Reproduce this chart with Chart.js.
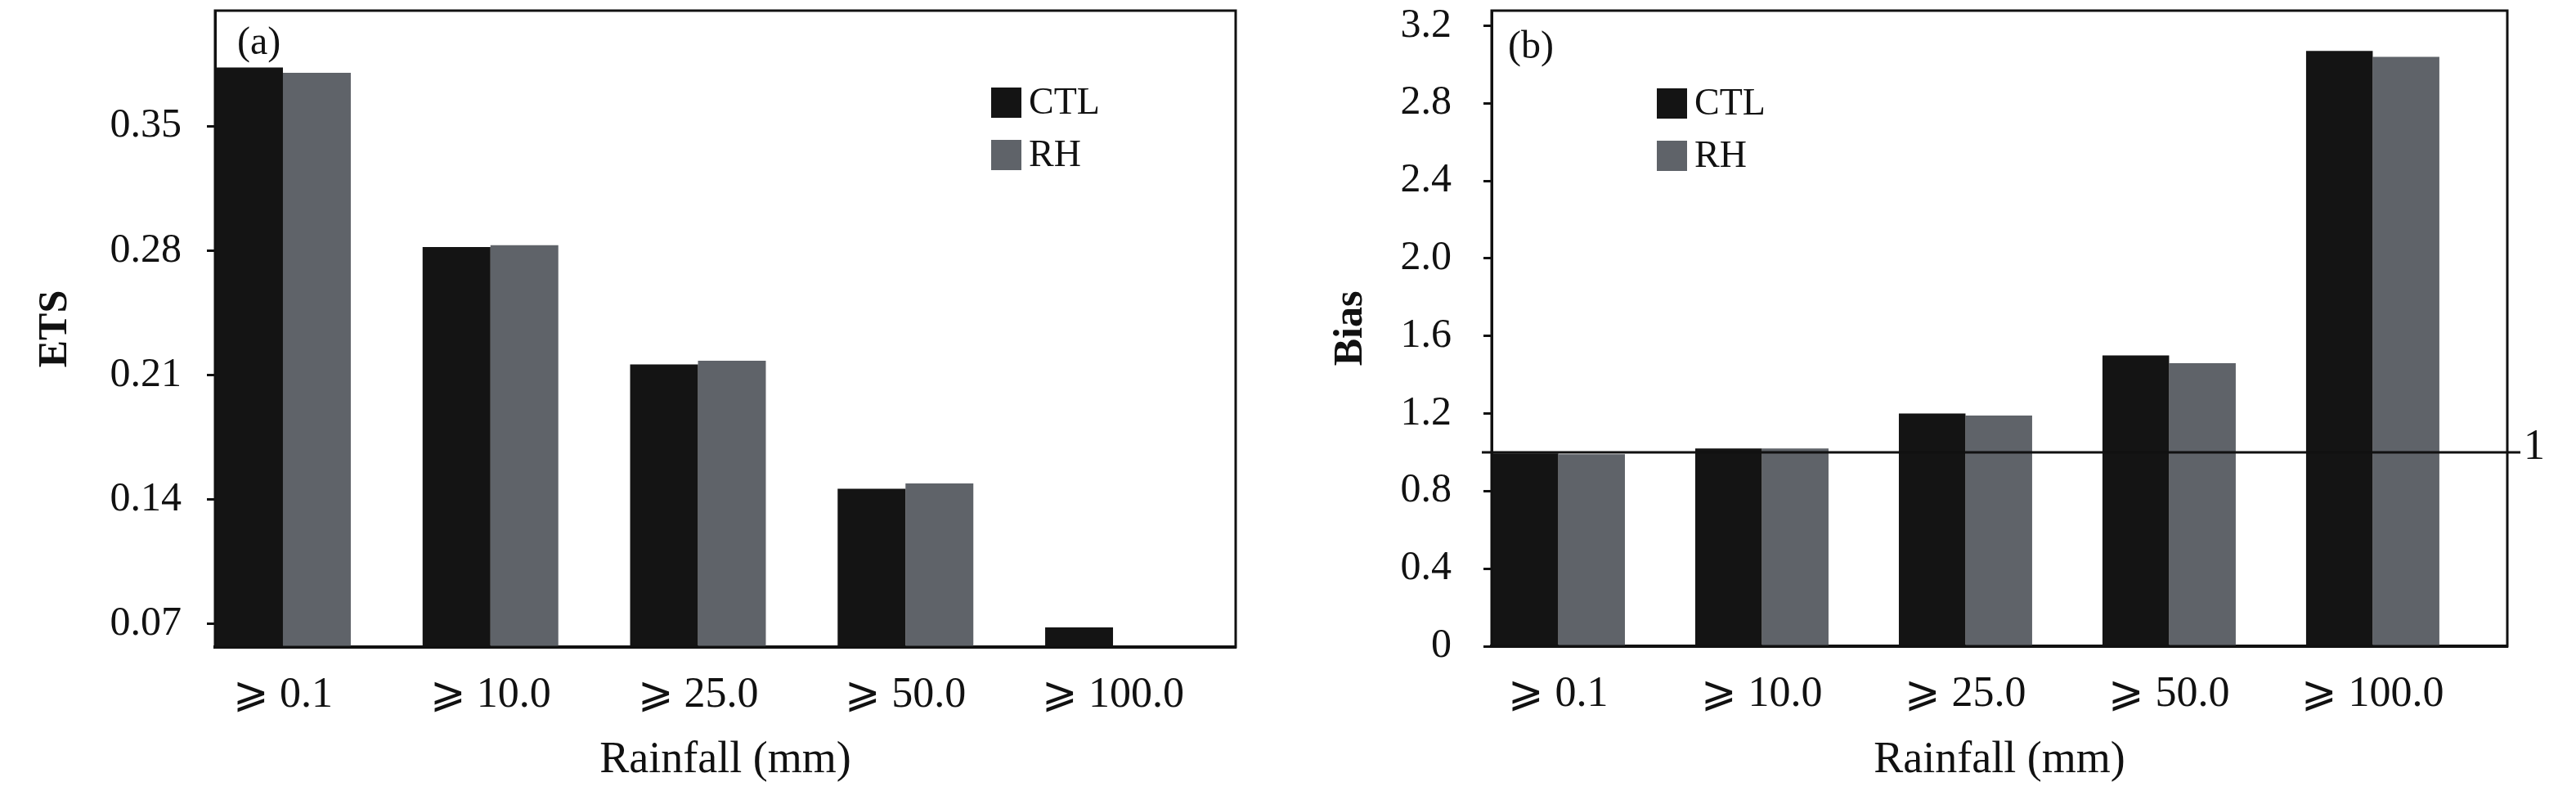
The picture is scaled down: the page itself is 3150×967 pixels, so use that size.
<!DOCTYPE html>
<html><head><meta charset="utf-8">
<script src="https://cdn.jsdelivr.net/npm/chart.js@4.4.1/dist/chart.umd.min.js"></script>
<style>
html,body{margin:0;padding:0;background:#fff;width:3150px;height:967px;overflow:hidden}
#wa{position:absolute;left:0;top:0;width:1560px;height:967px}
#wb{position:absolute;left:1560px;top:0;width:1590px;height:967px}
canvas{display:block}
</style></head><body>
<div id="wa"><canvas id="ca" width="1560" height="967"></canvas></div>
<div id="wb"><canvas id="cb" width="1590" height="967"></canvas></div>
<script>
// ---- data ----
const categories = ['⩾ 0.1', '⩾ 10.0', '⩾ 25.0', '⩾ 50.0', '⩾ 100.0'];
const seriesNames = ['CTL', 'RH'];
const seriesColors = ['#141414', '#5f6369'];
const etsCTL = [0.383, 0.282, 0.216, 0.146, 0.068];
const etsRH  = [0.380, 0.283, 0.218, 0.149, null];
const biasCTL = [0.995, 1.02, 1.20, 1.50, 3.07];
const biasRH  = [0.99, 1.02, 1.19, 1.46, 3.04];
const etsTicks = [0.07, 0.14, 0.21, 0.28, 0.35];
const etsTickLabels = ['0.07', '0.14', '0.21', '0.28', '0.35'];
const biasTicks = [0, 0.4, 0.8, 1.2, 1.6, 2.0, 2.4, 2.8, 3.2];
const biasTickLabels = ['0', '0.4', '0.8', '1.2', '1.6', '2.0', '2.4', '2.8', '3.2'];
const xTitle = 'Rainfall (mm)';
const refValue = 1;
const refLabel = '1';

const FONT = "'Liberation Serif','DejaVu Serif',serif";
Chart.defaults.font.family = FONT;
Chart.defaults.color = '#111';

function toPoints(arr) { return arr.map((v, i) => ({ x: i, y: v })); }

function framePlugin() {
  return {
    id: 'frame',
    afterDraw(chart) {
      const { ctx, chartArea: a } = chart;
      ctx.save();
      ctx.strokeStyle = '#111';
      ctx.lineWidth = 3;
      ctx.strokeRect(a.left, a.top, a.right - a.left, a.bottom - a.top);
      ctx.restore();
    }
  };
}
function labelPlugin(text, dx, dy) {
  return {
    id: 'panelLabel',
    afterDraw(chart) {
      const { ctx, chartArea: a } = chart;
      ctx.save();
      ctx.font = '48px ' + FONT;
      ctx.fillStyle = '#111';
      ctx.textBaseline = 'middle';
      ctx.textAlign = 'left';
      ctx.fillText(text, a.left + dx, a.top + dy);
      ctx.restore();
    }
  };
}
function legendPlugin(dx, dy) {
  return {
    id: 'customLegend',
    afterDraw(chart) {
      const { ctx, chartArea: a } = chart;
      ctx.save();
      ctx.font = '46px ' + FONT;
      ctx.textBaseline = 'middle';
      ctx.textAlign = 'left';
      chart.data.datasets.forEach((ds, i) => {
        const x = a.left + dx, y = a.top + dy + i * 64;
        ctx.fillStyle = ds.backgroundColor;
        ctx.fillRect(x, y, 37, 37);
        ctx.fillStyle = '#111';
        ctx.fillText(ds.label, x + 46, y + 20);
      });
      ctx.restore();
    }
  };
}
const refPlugin = {
  id: 'refLine',
  afterDatasetsDraw(chart) {
    const { ctx, chartArea: a, scales } = chart;
    const y = scales.y.getPixelForValue(refValue);
    ctx.save();
    ctx.strokeStyle = '#111';
    ctx.lineWidth = 3;
    ctx.beginPath();
    ctx.moveTo(a.left - 12, y);
    ctx.lineTo(a.right + 16, y);
    ctx.stroke();
    ctx.font = '52px ' + FONT;
    ctx.fillStyle = '#111';
    ctx.textBaseline = 'middle';
    ctx.textAlign = 'left';
    ctx.fillText(refLabel, a.right + 20, y - 6);
    ctx.restore();
  }
};

function makeChart(id, o) {
  const cv = document.getElementById(id);
  return new Chart(cv, {
    type: 'bar',
    data: {
      datasets: [
        { label: seriesNames[0], data: toPoints(o.ctl), backgroundColor: seriesColors[0], borderWidth: 0 },
        { label: seriesNames[1], data: toPoints(o.rh), backgroundColor: seriesColors[1], borderWidth: 0 }
      ]
    },
    options: {
      responsive: false,
      animation: false,
      devicePixelRatio: 1,
      layout: { padding: { top: 13, right: o.padRight, bottom: 0, left: 0 } },
      datasets: { bar: { categoryPercentage: o.catPct, barPercentage: 1 } },
      plugins: { legend: { display: false }, tooltip: { enabled: false } },
      scales: {
        x: {
          type: 'linear',
          min: o.xMin, max: o.xMax,
          offset: false,
          afterBuildTicks(s) { s.ticks = categories.map((c, i) => ({ value: i })); },
          afterFit(s) { s.height = o.xHeight; s.paddingLeft = 0; s.paddingRight = 0; },
          ticks: {
            autoSkip: false, maxRotation: 0, minRotation: 0, padding: 28,
            font: { size: 52 }, color: '#111',
            callback: (v, i) => categories[i]
          },
          grid: { display: false, drawTicks: false },
          border: { display: true, color: '#111', width: 4 },
          title: { display: true, text: xTitle, font: { size: 54, lineHeight: 1 }, color: '#111', padding: { top: 0, bottom: 10 } }
        },
        y: {
          type: 'linear',
          min: o.yMin, max: o.yMax,
          afterBuildTicks(s) { s.ticks = o.ticks.map(v => ({ value: v })); },
          afterFit(s) { s.width = o.yWidth; s.paddingTop = 0; s.paddingBottom = 0; },
          ticks: {
            padding: o.tickPad, font: { size: 50 }, color: '#111',
            callback: (v, i) => o.tickLabels[i]
          },
          grid: { display: true, drawOnChartArea: false, drawTicks: true, tickLength: 10, tickWidth: 3, tickColor: '#111' },
          border: { display: true, color: '#111', width: 3 },
          title: { display: true, text: o.yTitle, font: { size: 50, weight: 'bold', lineHeight: 1 }, color: '#111', padding: { top: o.yTitlePad, bottom: 0 } }
        }
      }
    },
    plugins: o.plugins
  });
}

makeChart('ca', {
  ctl: etsCTL, rh: etsRH,
  yMin: 0.057, yMax: 0.415, ticks: etsTicks, tickLabels: etsTickLabels,
  yTitle: 'ETS', yTitlePad: 43, yWidth: 263, tickPad: 31,
  xMin: -0.327, xMax: 4.591, catPct: 0.654,
  xHeight: 176, padRight: 49,
  plugins: [framePlugin(), labelPlugin('(a)', 27, 40), legendPlugin(949, 94)]
});
makeChart('cb', {
  ctl: biasCTL, rh: biasRH,
  yMin: 0, yMax: 3.278, ticks: biasTicks, tickLabels: biasTickLabels,
  yTitle: 'Bias', yTitlePad: 67, yWidth: 264, tickPad: 39,
  xMin: -0.3273, xMax: 4.661, catPct: 0.6546,
  xHeight: 177, padRight: 84,
  plugins: [framePlugin(), labelPlugin('(b)', 20, 45), legendPlugin(202, 95), refPlugin]
});
</script>
</body></html>
